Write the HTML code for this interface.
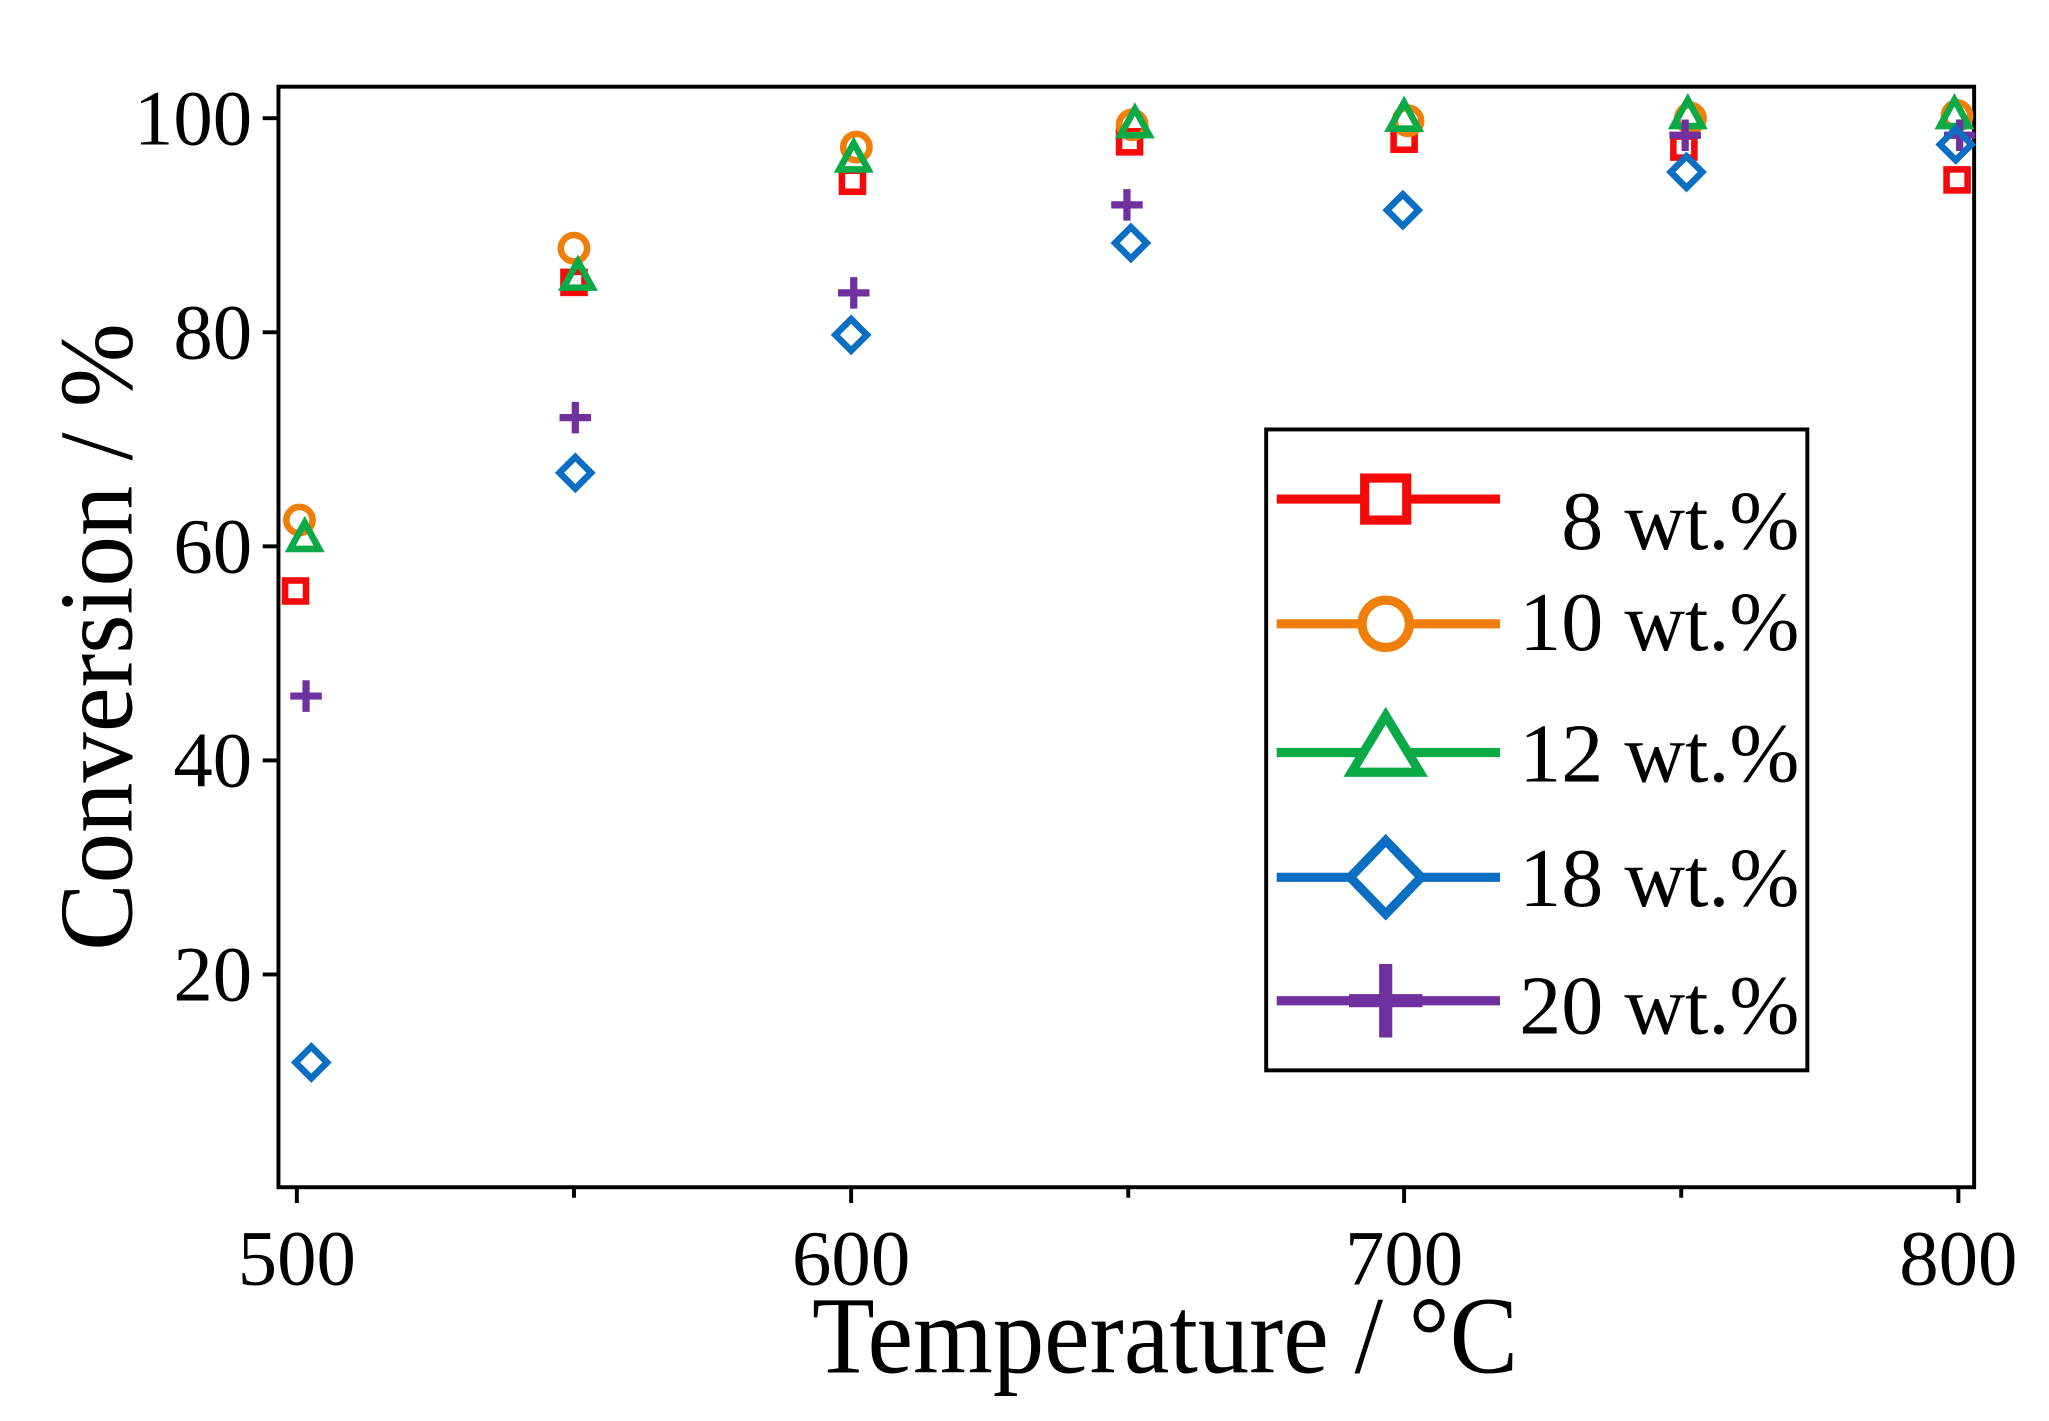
<!DOCTYPE html>
<html><head><style>html,body{margin:0;padding:0;background:#fff;}svg{display:block;}</style></head>
<body>
<svg width="2049" height="1421" viewBox="0 0 1560 1082" preserveAspectRatio="none" xmlns="http://www.w3.org/2000/svg" font-family="Liberation Serif, serif">
<rect x="0" y="0" width="1560" height="1082" fill="#fff"/>
<rect x="212" y="66" width="1291" height="838" fill="none" stroke="#000" stroke-width="3"/>
<g stroke="#000" stroke-width="3">
<line x1="226" y1="904" x2="226" y2="916"/><line x1="437" y1="904" x2="437" y2="912"/>
<line x1="648" y1="904" x2="648" y2="916"/><line x1="859" y1="904" x2="859" y2="912"/>
<line x1="1069" y1="904" x2="1069" y2="916"/><line x1="1280" y1="904" x2="1280" y2="912"/>
<line x1="1491" y1="904" x2="1491" y2="916"/>
<line x1="212" y1="90" x2="200" y2="90"/><line x1="212" y1="253" x2="200" y2="253"/>
<line x1="212" y1="416" x2="200" y2="416"/><line x1="212" y1="579" x2="200" y2="579"/>
<line x1="212" y1="742" x2="200" y2="742"/>
</g>
<g font-size="60" text-anchor="end">
<text x="192" y="110">100</text><text x="192" y="273">80</text><text x="192" y="436">60</text>
<text x="192" y="599">40</text><text x="192" y="762">20</text>
</g>
<g font-size="60" text-anchor="middle">
<text x="226" y="978">500</text><text x="648" y="978">600</text><text x="1069" y="978">700</text><text x="1491" y="978">800</text>
</g>
<text transform="translate(887,1045) scale(0.93,1)" font-size="84" text-anchor="middle">Temperature / °C</text>
<text transform="translate(100,485) rotate(-90) scale(0.96,1)" font-size="80" text-anchor="middle">Conversion / %</text>
<defs>
<g id="sq"><rect x="-8" y="-8" width="16" height="16" fill="none" stroke="#f50a0a" stroke-width="5"/></g>
<g id="ci"><circle r="10" fill="none" stroke="#f07f09" stroke-width="5"/></g>
<g id="tr"><polygon points="0,-12 11,8 -11,8" fill="none" stroke="#0aab47" stroke-width="5"/></g>
<g id="di"><polygon points="0,-12 12,0 0,12 -12,0" fill="none" stroke="#0a6fc2" stroke-width="5"/></g>
<g id="pl"><path d="M0,-12V12M-12,0H12" stroke="#7030a0" stroke-width="5.5"/></g>
</defs>
<use href="#sq" x="225" y="450"/><use href="#sq" x="437" y="215"/><use href="#sq" x="649" y="138"/><use href="#sq" x="860" y="108"/><use href="#sq" x="1069" y="106"/><use href="#sq" x="1282" y="112"/><use href="#sq" x="1490" y="137"/>
<use href="#ci" x="228" y="396"/><use href="#ci" x="437" y="189"/><use href="#ci" x="652" y="112"/><use href="#ci" x="862" y="95"/><use href="#ci" x="1072" y="92"/><use href="#ci" x="1287" y="90"/><use href="#ci" x="1490" y="88"/>
<use href="#tr" x="232" y="410"/><use href="#tr" x="440" y="211"/><use href="#tr" x="650" y="121"/><use href="#tr" x="864" y="95"/><use href="#tr" x="1069" y="90"/><use href="#tr" x="1285" y="88"/><use href="#tr" x="1488" y="88"/>
<use href="#pl" x="233" y="530"/><use href="#pl" x="438" y="318"/><use href="#pl" x="650" y="223"/><use href="#pl" x="858" y="156"/><use href="#pl" x="1283" y="103"/><use href="#pl" x="1492" y="103"/>
<use href="#di" x="237" y="809"/><use href="#di" x="438" y="360"/><use href="#di" x="648" y="255"/><use href="#di" x="861" y="185"/><use href="#di" x="1068" y="160"/><use href="#di" x="1284" y="131"/><use href="#di" x="1489" y="110"/>
<rect x="964" y="327" width="412" height="488" fill="#fff" stroke="#000" stroke-width="3"/>
<g stroke-width="7" fill="none">
<line x1="972" y1="380" x2="1142" y2="380" stroke="#f50a0a"/>
<rect x="1039" y="364" width="32" height="32" fill="#fff" stroke="#f50a0a"/>
<line x1="972" y1="475" x2="1142" y2="475" stroke="#f07f09"/>
<circle cx="1055" cy="475" r="18" fill="#fff" stroke="#f07f09"/>
<line x1="972" y1="573" x2="1142" y2="573" stroke="#0aab47"/>
<polygon points="1055,545 1081,588 1029,588" fill="#fff" stroke="#0aab47"/>
<line x1="972" y1="668" x2="1142" y2="668" stroke="#0a6fc2"/>
<polygon points="1055,640 1082,668 1055,696 1028,668" fill="#fff" stroke="#0a6fc2"/>
<line x1="972" y1="762" x2="1142" y2="762" stroke="#7030a0"/>
<path d="M1055,734V790M1027,762H1083" stroke="#7030a0" stroke-width="10"/>
</g>
<g font-size="64" text-anchor="end">
<text x="1370" y="418">8 wt.%</text><text x="1370" y="495">10 wt.%</text><text x="1370" y="595">12 wt.%</text>
<text x="1370" y="690">18 wt.%</text><text x="1370" y="787">20 wt.%</text>
</g>
</svg>
</body></html>
